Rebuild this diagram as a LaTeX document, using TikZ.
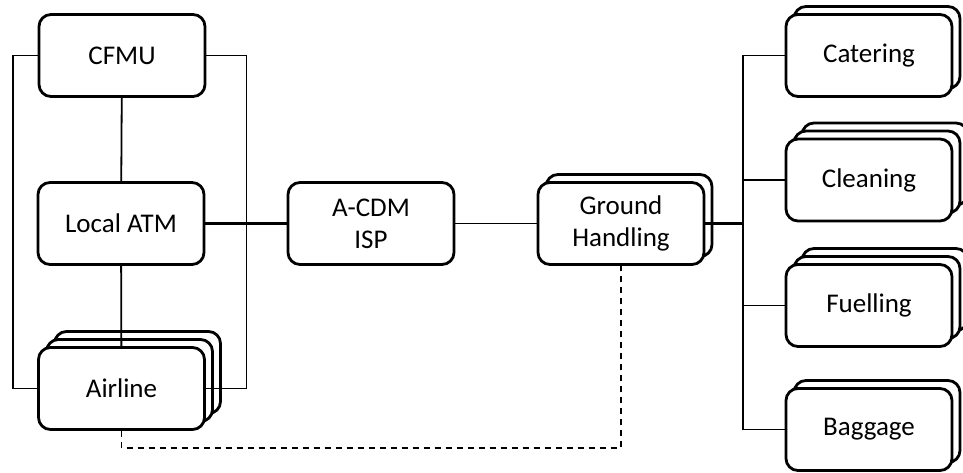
\documentclass[tikz,border=0pt]{standalone}
\usepackage{fontspec}
\setmainfont{Carlito}
\usetikzlibrary{shadows}

\begin{document}
\begin{tikzpicture}[x=1pt, y=-1pt, font=\fontsize{27}{32}\selectfont,
    party/.style={draw, line width=2.8pt, rounded corners=12pt, fill=white, minimum width=166pt, minimum height=82pt, align=center, inner sep=0pt},
    party2/.style={party, copy shadow={shadow xshift=8pt, shadow yshift=8pt, draw, fill=white, line width=2.8pt}},
    party3/.style={party, double copy shadow={shadow xshift=8pt, shadow yshift=8pt, draw, fill=white, line width=2.8pt}},
    link/.style={line width=1.8pt}]
        \useasboundingbox (0,0) rectangle (963,473);
        % parties
        \node[party] (cfmu) at (122,55.5) {CFMU};
        \node[party] (atm) at (121,223.5) {Local ATM};
        \node[party3] (airline) at (121.5,388.5) {Airline};
        \node[party] (isp) at (371,223.5) {A-CDM\\ISP};
        \node[party2] (ground) at (621,223.5) {Ground\\Handling};
        \node[party2] (catering) at (869,55.5) {Catering};
        \node[party3] (cleaning) at (869,180) {Cleaning};
        \node[party3] (fuelling) at (869,305.5) {Fuelling};
        \node[party2] (baggage) at (869,429.5) {Baggage};
        % links
        \draw[link] (cfmu) -- (atm);
        \draw[link] (atm) -- (airline);
        \draw[link] (cfmu.west) -- ++(-25,0) |- (airline.west);
        \draw[link] (cfmu.east) -- ++(40,0) |- (airline.east);
        \draw[line width=2.8pt] (atm) -- (isp);
        \draw[link] (isp) -- (ground);
        \coordinate (hub) at (743,223.5);
        \draw[line width=2.8pt] (ground) -- (hub);
        \foreach \n in {catering,cleaning,fuelling,baggage} {
          \draw[link] (hub) |- (\n.west);
        }
        \draw[link, dash pattern=on 6pt off 5pt] (airline.south) -- ++(0,17) -| (ground.south);
\end{tikzpicture}
\end{document}
